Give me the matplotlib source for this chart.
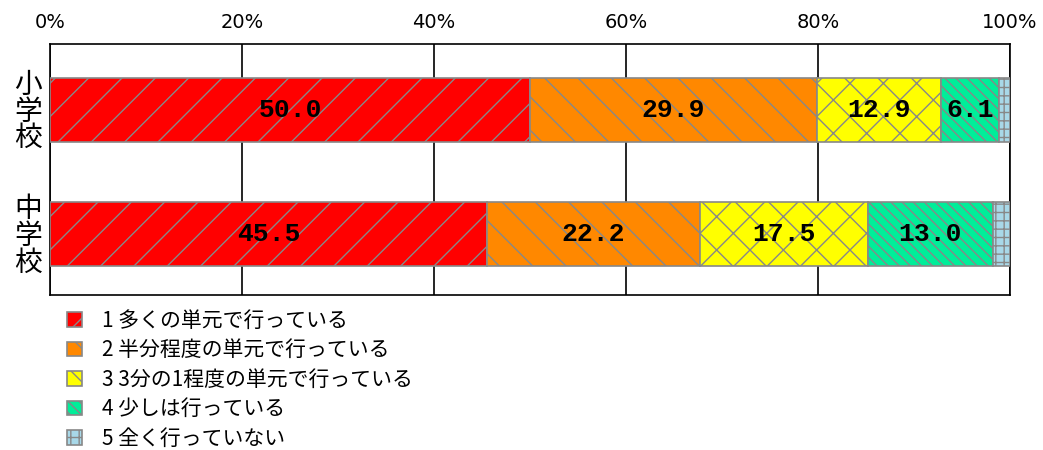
import matplotlib
matplotlib.use("Agg")
import matplotlib.pyplot as plt

plt.rcParams['font.family'] = ['Noto Sans CJK JP', 'DejaVu Sans']
plt.rcParams['hatch.linewidth'] = 1.0

categories = ["小学校", "中学校"]
series_labels = ["1 多くの単元で行っている", "2 半分程度の単元で行っている",
                 "3 3分の1程度の単元で行っている", "4 少しは行っている", "5 全く行っていない"]
values = [
    [50.0, 45.5],
    [29.9, 22.2],
    [12.9, 17.5],
    [6.1, 13.0],
    [1.1, 1.8],
]
show_label = [True, True, True, True, False]
colors = ["#FF0000", "#FF8800", "#FFFF00", "#00EE99", "#A8D8E8"]
hatches = ["/", "\\", "x", "\\\\\\", "++"]
xticks = [0, 20, 40, 60, 80, 100]
xticklabels = ["0%", "20%", "40%", "60%", "80%", "100%"]

fig = plt.figure(figsize=(10.43, 4.5), dpi=100)
ax = fig.add_axes([50/1043, 1-295/450, 960/1043, 251/450])

ypos = list(range(len(categories)))
left = [0.0]*len(categories)
for i, vals in enumerate(values):
    ax.barh(ypos, vals, left=left, height=0.51, color=colors[i],
            edgecolor="#888888", linewidth=1.2, hatch=hatches[i],
            label=series_labels[i], zorder=3)
    if show_label[i]:
        for j, v in enumerate(vals):
            ax.text(left[j] + v/2, ypos[j], f"{v:.1f}", ha="center", va="center",
                    fontsize=19, fontweight="bold", family="Liberation Mono",
                    zorder=4)
    left = [l + v for l, v in zip(left, vals)]

ax.set_xlim(0, 100)
ax.set_ylim(1.49, -0.53)
ax.set_xticks(xticks)
ax.set_xticklabels(xticklabels, fontsize=14, family="DejaVu Sans")
ax.xaxis.tick_top()
ax.tick_params(axis="x", length=0, pad=9)
ax.set_yticks(ypos)
ax.set_yticklabels(["\n".join(c) for c in categories], fontsize=20, linespacing=0.85)
ax.tick_params(axis="y", length=0, pad=6)
ax.grid(axis="x", color="black", linewidth=1.2, zorder=0)
for s in ax.spines.values():
    s.set_color("black")
    s.set_linewidth(1.2)

ax.legend(loc="upper left", bbox_to_anchor=(0.009, -0.025), frameon=False,
          fontsize=15, handlelength=0.7, handleheight=0.7, labelspacing=0.36,
          handletextpad=1.0, borderaxespad=0)

fig.savefig("out.png", dpi=100)
